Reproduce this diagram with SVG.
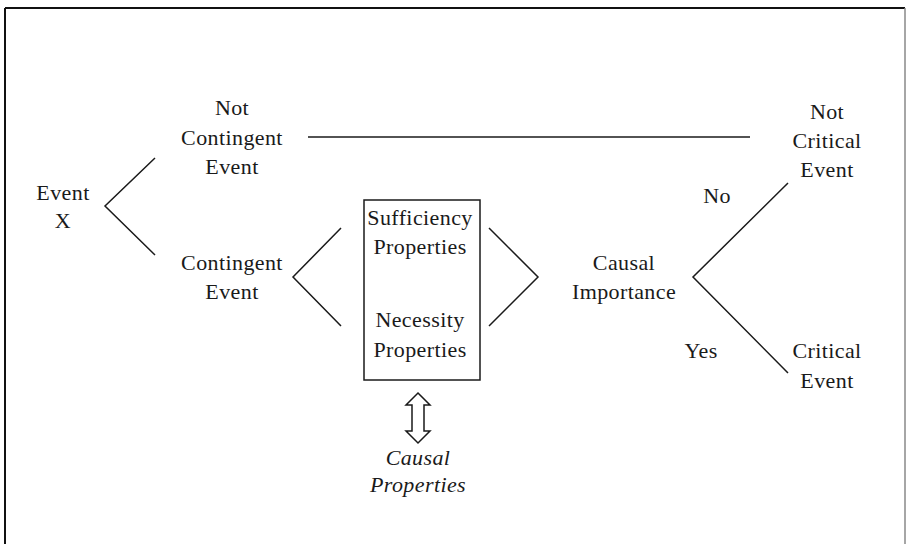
<svg xmlns="http://www.w3.org/2000/svg" width="907" height="544" viewBox="0 0 907 544">
<style>
text{font-size:22px;fill:#1a1a1a;text-anchor:middle;letter-spacing:0.4px}
.it{font-style:italic}
.ln{stroke:#1a1a1a;stroke-width:1.5;fill:none}
</style>
<rect width="907" height="544" fill="#fff"/>
<g id="frame">
<line x1="5" y1="8" x2="905" y2="8" stroke="#111" stroke-width="2"/>
<line x1="5" y1="8" x2="5" y2="544" stroke="#111" stroke-width="2"/>
<line x1="905" y1="8" x2="905" y2="544" stroke="#888" stroke-width="1.5"/>
</g>
<g id="connectors">
<polyline class="ln" points="155,158 105,206 155,255"/>
<line class="ln" x1="308" y1="137" x2="750" y2="137"/>
<polyline class="ln" points="341,228 293,277 341,326"/>
<polyline class="ln" points="489,228 538,277 489,326"/>
<polyline class="ln" points="788,183 693,277 788,373"/>
<path id="dblarrow" class="ln" d="M418,393 L430,405 L424,405 L424,431 L430,431 L418,443 L406,431 L412,431 L412,405 L406,405 Z" stroke-width="1.3"/>
</g>
<g font-family="Liberation Serif, Times New Roman, serif">
<g id="event-x"><text x="63" y="200">Event</text><text x="63" y="228">X</text></g>
<g id="not-contingent"><text x="232" y="115">Not</text><text x="232" y="145">Contingent</text><text x="232" y="174">Event</text></g>
<g id="contingent"><text x="232" y="270">Contingent</text><text x="232" y="299">Event</text></g>
<g id="properties-box">
<rect x="364" y="200" width="116" height="180" fill="none" stroke="#1a1a1a" stroke-width="1.5"/>
<text x="420" y="225">Sufficiency</text><text x="420" y="254">Properties</text>
<text x="420" y="327">Necessity</text><text x="420" y="357">Properties</text>
</g>
<g id="causal-properties"><text class="it" x="418" y="465">Causal</text><text class="it" x="418" y="492">Properties</text></g>
<g id="causal-importance"><text x="624" y="270">Causal</text><text x="624" y="299">Importance</text></g>
<g id="label-no"><text x="717" y="203">No</text></g>
<g id="label-yes"><text x="701" y="358">Yes</text></g>
<g id="not-critical"><text x="827" y="119">Not</text><text x="827" y="148">Critical</text><text x="827" y="177">Event</text></g>
<g id="critical"><text x="827" y="358">Critical</text><text x="827" y="388">Event</text></g>
</g>
</svg>
